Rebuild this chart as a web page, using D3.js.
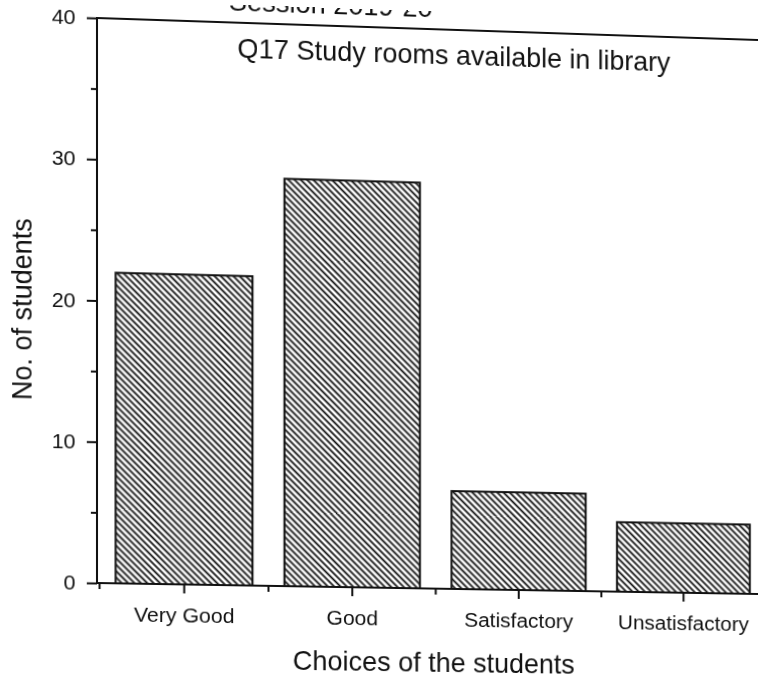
<!DOCTYPE html>
<html><head><meta charset="utf-8">
<script src="https://cdn.jsdelivr.net/npm/d3@7"></script>
<style>
html,body{margin:0;padding:0;background:#fff;overflow:hidden}
svg{display:block;transform-origin:0 0}
text{font-family:Arial,"Liberation Sans",Helvetica,sans-serif;fill:#111}
</style></head><body>
<svg id="chart" width="758" height="684"></svg>
<script>
// ---- data ----
const categories = ["Very Good", "Good", "Satisfactory", "Unsatisfactory"];
const students = [22, 29, 7, 5];
const yTicks = [0, 10, 20, 30, 40];
const yMinorTicks = [5, 15, 25, 35];
const sessionText = "Session 2019-20";
const titleText = "Q17 Study rooms available in library";
const xTitleText = "Choices of the students";
const yTitleText = "No. of students";

// ---- layout ----
const frame = {left: 97, right: 766, top: 18, bottom: 583};
const svg = d3.select("#chart");

const x = d3.scaleBand().domain(categories).range([99.5, 765.5])
  .paddingInner(0.19).paddingOuter(0.095);
const y = d3.scaleLinear().domain([0, 40]).range([frame.bottom, frame.top]);

// hatch pattern
const hs = 4.5;
const defs = svg.append("defs");
const pat = defs.append("pattern").attr("id", "hatch")
  .attr("patternUnits", "userSpaceOnUse").attr("width", hs).attr("height", hs)
  .attr("patternTransform", "rotate(45)");
pat.append("rect").attr("width", hs).attr("height", hs).attr("fill", "#fff");
pat.append("line").attr("x1", 0).attr("y1", hs / 2).attr("x2", hs).attr("y2", hs / 2)
  .attr("stroke", "#111").attr("stroke-width", 1.8);

const g = svg.append("g");

// bars
g.selectAll("rect.bar").data(categories).join("rect").attr("class", "bar")
  .attr("x", d => x(d)).attr("width", x.bandwidth())
  .attr("y", (d, i) => y(students[i]))
  .attr("height", (d, i) => y(0) - y(students[i]))
  .attr("fill", "url(#hatch)").attr("stroke", "#111").attr("stroke-width", 2);

// frame
g.append("rect").attr("x", frame.left).attr("y", frame.top)
  .attr("width", frame.right - frame.left).attr("height", frame.bottom - frame.top)
  .attr("fill", "none").attr("stroke", "#111").attr("stroke-width", 2);

// y axis
const yAxis = g.append("g").attr("transform", `translate(${frame.left},0)`)
  .call(d3.axisLeft(y).tickValues(yTicks).tickSize(10).tickPadding(11).tickSizeOuter(0));
yAxis.call(s => s.select(".domain").remove());
yAxis.selectAll("line").attr("stroke", "#111").attr("stroke-width", 2);
yAxis.selectAll("text").style("font-size", "21px").attr("fill", "#111");
const yMinor = g.append("g").attr("transform", `translate(${frame.left},0)`)
  .call(d3.axisLeft(y).tickValues(yMinorTicks).tickSize(6).tickFormat(""));
yMinor.call(s => s.select(".domain").remove());
yMinor.selectAll("line").attr("stroke", "#111").attr("stroke-width", 2);

// x axis
const xAxis = g.append("g").attr("transform", `translate(0,${frame.bottom})`)
  .call(d3.axisBottom(x).tickSize(9).tickPadding(14).tickSizeOuter(0));
xAxis.call(s => s.select(".domain").remove());
xAxis.selectAll("line").attr("stroke", "#111").attr("stroke-width", 2);
xAxis.selectAll("text").style("font-size", "21px").attr("fill", "#111");
const gap = (x.step() - x.bandwidth()) / 2;
const bounds = categories.map(c => x(c) - gap).concat([x(categories[categories.length - 1]) + x.bandwidth() + gap]);
g.append("g").selectAll("line").data(bounds).join("line")
  .attr("x1", d => d).attr("x2", d => d)
  .attr("y1", frame.bottom).attr("y2", frame.bottom + 6)
  .attr("stroke", "#111").attr("stroke-width", 2);

// texts
g.append("text").attr("x", 328).attr("y", 6).attr("text-anchor", "middle")
  .style("font-size", "27px").text(sessionText);
g.append("text").attr("x", 452).attr("y", 53).attr("text-anchor", "middle")
  .style("font-size", "27px").text(titleText);
g.append("text").attr("x", 431).attr("y", 667).attr("text-anchor", "middle")
  .style("font-size", "27px").text(xTitleText);
g.append("text").attr("transform", "translate(33,311) rotate(-90)").attr("text-anchor", "middle")
  .style("font-size", "27px").text(yTitleText);

// ---- slight perspective of the photographed page ----
function homography(src, dst) {
  const A = [], b = [];
  for (let i = 0; i < 4; i++) {
    const [sx, sy] = src[i], [u, v] = dst[i];
    A.push([sx, sy, 1, 0, 0, 0, -sx * u, -sy * u]); b.push(u);
    A.push([0, 0, 0, sx, sy, 1, -sx * v, -sy * v]); b.push(v);
  }
  const n = 8;
  for (let c = 0; c < n; c++) {
    let p = c;
    for (let r = c + 1; r < n; r++) if (Math.abs(A[r][c]) > Math.abs(A[p][c])) p = r;
    [A[c], A[p]] = [A[p], A[c]]; [b[c], b[p]] = [b[p], b[c]];
    for (let r = 0; r < n; r++) {
      if (r === c) continue;
      const f = A[r][c] / A[c][c];
      for (let k = c; k < n; k++) A[r][k] -= f * A[c][k];
      b[r] -= f * b[c];
    }
  }
  return b.map((v, i) => v / A[i][i]);
}
const h = homography(
  [[97, 18], [758, 18], [97, 583], [758, 583]],
  [[97, 18], [758, 40], [97, 583], [758, 594]]);
document.getElementById("chart").style.transform =
  `matrix3d(${h[0]},${h[3]},0,${h[6]},${h[1]},${h[4]},0,${h[7]},0,0,1,0,${h[2]},${h[5]},0,1)`;
</script>
</body></html>
